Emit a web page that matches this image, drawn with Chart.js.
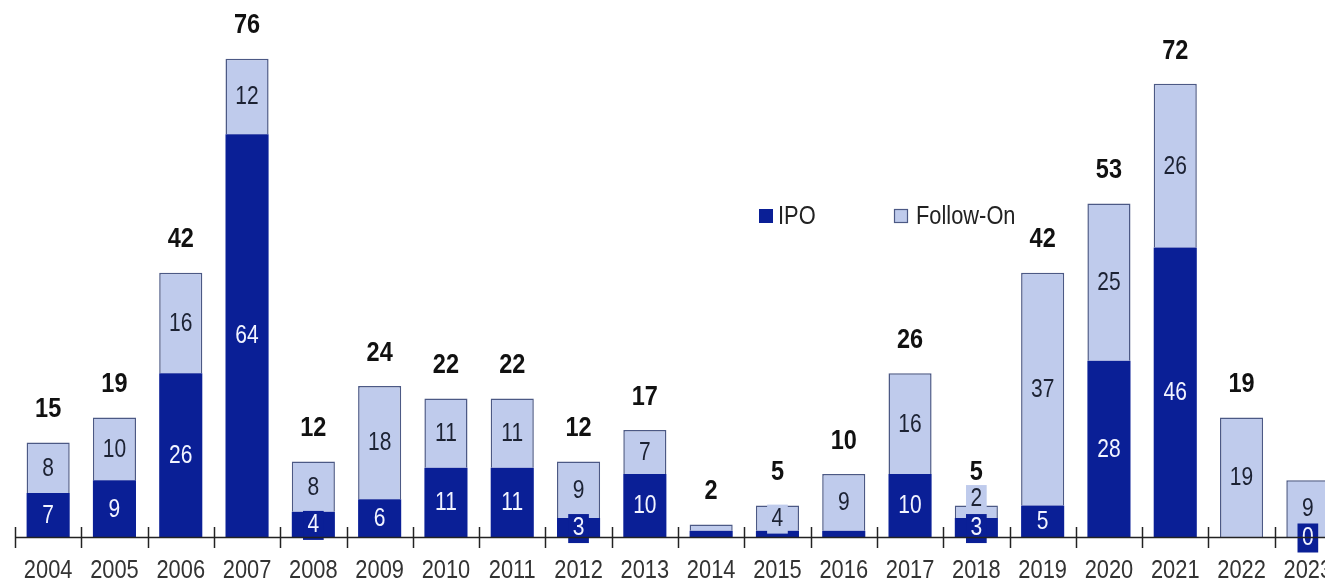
<!DOCTYPE html>
<html>
<head>
<meta charset="utf-8">
<script src="https://cdn.jsdelivr.net/npm/chart.js@4.4.1/dist/chart.umd.min.js"></script>
<style>
  html, body { margin: 0; padding: 0; background: #ffffff; overflow: hidden; }
  #wrap { width: 1360px; height: 587px; }
</style>
</head>
<body>
<div id="wrap"><canvas id="c" width="1360" height="587"></canvas></div>
<script>
// ---- data ----
const years = ["2004","2005","2006","2007","2008","2009","2010","2011","2012","2013","2014","2015","2016","2017","2018","2019","2020","2021","2022","2023"];
const ipo      = [7, 9, 26, 64, 4, 6, 11, 11, 3, 10, 1, 1, 1, 10, 3, 5, 28, 46, 0, 0];
const followOn = [8, 10, 16, 12, 8, 18, 11, 11, 9, 7, 1, 4, 9, 16, 2, 37, 25, 26, 19, 9];
const totals   = [15, 19, 42, 76, 12, 24, 22, 22, 12, 17, 2, 5, 10, 26, 5, 42, 53, 72, 19, null];
const ipoLabels      = ["7","9","26","64","4","6","11","11","3","10",null,null,null,"10","3","5","28","46",null,"0"];
const followOnLabels = ["8","10","16","12","8","18","11","11","9","7",null,"4","9","16","2","37","25","26","19","9"];

// ---- styles ----
const DARK = "#0a1f96";
const LIGHT = "#bfcbec";
const EDGE = "#4c5985";
const FONT = '"Liberation Sans", Arial, sans-serif';
const SX = 0.84; // horizontal condensing to mimic a narrow face

function narrowText(ctx, txt, x, y, align) {
  ctx.save();
  ctx.translate(x, y);
  ctx.scale(SX, 1);
  ctx.textAlign = align || 'center';
  ctx.fillText(txt, 0, 0);
  ctx.restore();
}
function narrowWidth(ctx, txt) { return ctx.measureText(txt).width * SX; }

const labelPlugin = {
  id: 'stackLabels',
  afterDatasetsDraw(chart) {
    const ctx = chart.ctx;
    const xs = chart.scales.x, ys = chart.scales.y;
    const boxH = 29;
    ctx.save();
    ctx.textBaseline = 'middle';
    ctx.font = '25px ' + FONT;
    for (let i = 0; i < years.length; i++) {
      const x = xs.getPixelForValue(i);
      const base = ys.getPixelForValue(0);
      const ipoTop = ys.getPixelForValue(ipo[i]);
      const totTop = ys.getPixelForValue(ipo[i] + followOn[i]);
      let yIpo = (base + ipoTop) / 2;
      let yFo = (ipoTop + totTop) / 2;
      const hasIpo = ipoLabels[i] !== null, hasFo = followOnLabels[i] !== null;
      if (hasIpo && hasFo && (yIpo - yFo) < boxH) {
        yFo = yIpo - boxH;
      }
      const draw = (txt, y, bg, fg, segH) => {
        if (segH < boxH) {
          const w = narrowWidth(ctx, txt) + 9;
          ctx.fillStyle = bg;
          ctx.fillRect(x - w / 2, y - boxH / 2 + 1, w, boxH);
        }
        ctx.fillStyle = fg;
        narrowText(ctx, txt, x, y + 1);
      };
      if (hasFo) draw(followOnLabels[i], yFo, LIGHT, '#1c2233', ipoTop - totTop);
      if (hasIpo) draw(ipoLabels[i], yIpo, DARK, '#f2f4ff', base - ipoTop);
    }
    // totals
    ctx.font = 'bold 28px ' + FONT;
    ctx.fillStyle = '#111111';
    for (let i = 0; i < years.length; i++) {
      if (totals[i] === null) continue;
      const x = xs.getPixelForValue(i);
      const y = ys.getPixelForValue(ipo[i] + followOn[i]) - 33;
      narrowText(ctx, String(totals[i]), x, y);
    }
    ctx.restore();
  },
  afterDraw(chart) {
    const ctx = chart.ctx;
    const xs = chart.scales.x;
    const bottom = chart.chartArea.bottom;
    const step = (xs.right - xs.left) / years.length;
    ctx.save();
    // tick marks crossing the axis
    ctx.strokeStyle = '#222222';
    ctx.lineWidth = 1.5;
    for (let i = 0; i <= years.length; i++) {
      const x = Math.round(xs.left + i * step) + 0.5;
      ctx.beginPath();
      ctx.moveTo(x, bottom - 10);
      ctx.lineTo(x, bottom + 11);
      ctx.stroke();
    }
    // axis line
    ctx.beginPath();
    ctx.moveTo(xs.left, bottom + 0.5);
    ctx.lineTo(xs.right, bottom + 0.5);
    ctx.stroke();
    // category labels
    ctx.font = '26px ' + FONT;
    ctx.fillStyle = '#333333';
    ctx.textBaseline = 'middle';
    for (let i = 0; i < years.length; i++) {
      narrowText(ctx, years[i], xs.getPixelForValue(i), bottom + 34);
    }
    // legend
    const lx = 759, ly = 216;
    ctx.fillStyle = DARK;
    ctx.fillRect(lx, ly - 7, 14, 14);
    ctx.font = '26px ' + FONT;
    ctx.fillStyle = '#222222';
    narrowText(ctx, 'IPO', lx + 19, ly + 1, 'left');
    const fx = 894;
    ctx.fillStyle = LIGHT;
    ctx.fillRect(fx, ly - 7, 14, 14);
    ctx.strokeStyle = EDGE;
    ctx.lineWidth = 1.2;
    ctx.strokeRect(fx + 0.5, ly - 6.5, 13, 13);
    ctx.fillStyle = '#222222';
    narrowText(ctx, 'Follow-On', fx + 22, ly + 1, 'left');
    ctx.restore();
  }
};

new Chart(document.getElementById('c'), {
  type: 'bar',
  data: {
    labels: years,
    datasets: [
      { label: 'IPO', data: ipo, backgroundColor: DARK, borderWidth: 0 },
      { label: 'Follow-On', data: followOn, backgroundColor: LIGHT, borderColor: EDGE, borderWidth: 1.5 }
    ]
  },
  options: {
    responsive: false,
    animation: false,
    devicePixelRatio: 1,
    layout: { padding: { left: 15, right: 19, top: 2, bottom: 42 } },
    datasets: { bar: { categoryPercentage: 1, barPercentage: 0.65 } },
    plugins: { legend: { display: false }, tooltip: { enabled: false } },
    scales: {
      x: {
        stacked: true,
        grid: { display: false },
        border: { display: false },
        ticks: { display: false }
      },
      y: {
        stacked: true,
        display: false,
        min: 0,
        max: 85
      }
    }
  },
  plugins: [labelPlugin]
});
</script>
</body>
</html>
